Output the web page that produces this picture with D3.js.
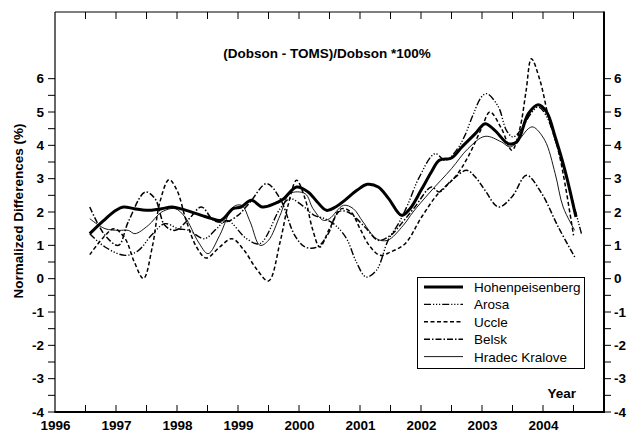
<!DOCTYPE html>
<html><head><meta charset="utf-8">
<script src="https://cdn.jsdelivr.net/npm/d3@7"></script>
<style>
html,body{margin:0;padding:0;background:#fff;}
text{font-family:Arial,"Liberation Sans",Helvetica,sans-serif;}
</style></head>
<body>
<svg id="chart" width="630" height="435"></svg>
<script>
// ---- data (year, normalized difference %) ----
const hohenpeisenberg = [[1996.57,1.35],[1996.8,1.75],[1997.0,2.05],[1997.12,2.15],[1997.3,2.1],[1997.5,2.05],[1997.75,2.1],[1997.92,2.15],[1998.15,2.05],[1998.4,1.9],[1998.57,1.8],[1998.72,1.75],[1998.92,2.1],[1999.05,2.15],[1999.22,2.35],[1999.4,2.15],[1999.6,2.25],[1999.75,2.4],[1999.96,2.75],[2000.15,2.6],[2000.3,2.3],[2000.45,2.05],[2000.6,2.15],[2000.75,2.35],[2000.95,2.65],[2001.12,2.83],[2001.3,2.75],[2001.47,2.4],[2001.68,1.9],[2001.82,2.1],[2002.0,2.65],[2002.17,3.2],[2002.3,3.55],[2002.5,3.62],[2002.67,3.95],[2002.89,4.35],[2003.05,4.65],[2003.21,4.45],[2003.43,4.05],[2003.57,4.1],[2003.76,4.95],[2003.92,5.22],[2004.06,5.0],[2004.2,4.25],[2004.36,3.25],[2004.54,1.85]];
const arosa = [[1996.57,1.35],[1996.82,0.95],[1997.15,0.7],[1997.37,0.85],[1997.58,1.3],[1997.8,1.65],[1998.02,1.5],[1998.19,1.45],[1998.45,1.2],[1998.65,1.5],[1998.82,1.75],[1999.14,1.2],[1999.36,1.05],[1999.69,2.1],[1999.85,2.4],[2000.05,2.2],[2000.25,1.9],[2000.42,1.8],[2000.6,1.6],[2000.78,1.2],[2000.94,0.5],[2001.1,0.05],[2001.27,0.25],[2001.46,1.15],[2001.63,1.65],[2001.79,2.25],[2001.96,3.0],[2002.23,3.75],[2002.4,3.55],[2002.6,3.9],[2002.72,4.3],[2002.85,4.9],[2002.99,5.45],[2003.08,5.55],[2003.27,5.15],[2003.4,4.45],[2003.51,4.25],[2003.65,4.5],[2003.8,4.95],[2003.92,5.15],[2004.05,4.9],[2004.3,3.55],[2004.63,1.35]];
const uccle = [[1996.57,0.72],[1996.8,1.25],[1996.97,1.5],[1997.15,1.2],[1997.3,0.5],[1997.45,0.0],[1997.6,1.0],[1997.72,2.3],[1997.87,2.97],[1998.0,2.65],[1998.15,1.75],[1998.32,0.95],[1998.48,0.62],[1998.7,0.95],[1998.9,1.2],[1999.1,0.85],[1999.3,0.3],[1999.5,-0.07],[1999.69,1.1],[1999.82,2.2],[1999.96,2.95],[2000.1,2.4],[2000.22,1.5],[2000.34,0.95],[2000.5,1.5],[2000.7,2.1],[2000.85,2.0],[2001.0,1.5],[2001.15,1.0],[2001.33,0.7],[2001.5,0.8],[2001.74,1.05],[2002.01,1.85],[2002.28,2.55],[2002.56,3.05],[2002.77,3.65],[2002.99,4.5],[2003.13,5.0],[2003.32,4.5],[2003.49,3.85],[2003.62,4.5],[2003.72,5.6],[2003.81,6.6],[2003.95,5.95],[2004.09,4.85],[2004.25,3.85],[2004.36,2.85],[2004.5,1.3]];
const belsk = [[1996.57,2.15],[1996.82,1.3],[1997.04,1.0],[1997.2,1.7],[1997.48,2.6],[1997.64,2.4],[1997.8,1.6],[1997.97,1.45],[1998.2,1.8],[1998.4,2.15],[1998.6,1.75],[1998.8,1.7],[1999.0,1.9],[1999.2,2.3],[1999.47,2.85],[1999.69,2.4],[1999.93,1.3],[2000.1,0.95],[2000.3,0.95],[2000.48,1.35],[2000.64,2.0],[2000.8,2.0],[2001.08,1.55],[2001.3,1.15],[2001.5,1.3],[2001.7,1.7],[2001.9,2.15],[2002.17,2.75],[2002.3,2.6],[2002.5,2.95],[2002.75,3.25],[2002.89,3.05],[2003.05,2.65],[2003.27,2.15],[2003.49,2.45],[2003.73,3.1],[2003.98,2.55],[2004.25,1.55],[2004.52,0.65]];
const hradecKralove = [[1996.57,1.8],[1996.82,1.5],[1997.04,1.45],[1997.2,1.45],[1997.31,1.35],[1997.53,1.6],[1997.75,2.0],[1997.97,2.1],[1998.13,1.85],[1998.35,1.1],[1998.51,0.75],[1998.7,1.3],[1998.92,2.15],[1999.06,2.2],[1999.2,1.7],[1999.36,1.0],[1999.5,1.15],[1999.69,1.9],[1999.85,2.55],[2000.1,2.55],[2000.23,2.1],[2000.4,1.75],[2000.5,1.8],[2000.73,2.2],[2000.89,2.1],[2001.05,1.7],[2001.27,1.2],[2001.45,1.15],[2001.71,1.6],[2001.87,2.0],[2002.15,2.6],[2002.5,3.3],[2002.77,3.9],[2003.05,4.27],[2003.32,4.1],[2003.46,3.95],[2003.6,4.15],[2003.76,4.5],[2003.84,4.55],[2004.03,4.15],[2004.2,3.15],[2004.33,2.15],[2004.52,1.45]];

const seriesNames = ["Hohenpeisenberg","Arosa","Uccle","Belsk","Hradec Kralove"];
const yTickValues = [-4,-3,-2,-1,0,1,2,3,4,5,6];
const xTickLabels = [1996,1997,1998,1999,2000,2001,2002,2003,2004];
const titleText = "(Dobson - TOMS)/Dobson *100%";
const yLabelText = "Normalized Differences (%)";
const xLabelText = "Year";

// ---- layout ----
const L = 55, R = 604, T = 12, B = 412;
const svg = d3.select("#chart");
const x = d3.scaleLinear().domain([1996, 2005]).range([L, R]);
const y = d3.scaleLinear().domain([-4, 8]).range([B, T]);

const styles = {
  "Hohenpeisenberg": {w: 3, dash: null},
  "Arosa": {w: 1.4, dash: "7,2,1.2,1.8,1.2,1.8,1.2,2"},
  "Uccle": {w: 1.5, dash: "4,2.5"},
  "Belsk": {w: 1.5, dash: "6,2,1.5,2"},
  "Hradec Kralove": {w: 0.9, dash: null}
};
const dataByName = {
  "Hohenpeisenberg": hohenpeisenberg, "Arosa": arosa, "Uccle": uccle,
  "Belsk": belsk, "Hradec Kralove": hradecKralove
};

const fontSize = 13.5;
const fontFam = "Arial, 'Liberation Sans', sans-serif";
const fmt = d => String(d);
const half = d3.range(1996, 2005.01, 0.5).filter(v => v > 1996 && v < 2005);
const yMinor = d3.range(-4, 6.01, 0.5);

// bottom axis labels
const bottomAxis = d3.axisBottom(x).tickValues(xTickLabels).tickFormat(fmt).tickSize(0).tickPadding(8);
const gB = svg.append("g").attr("transform", `translate(0,${B})`).call(bottomAxis);
gB.select(".domain").remove();
gB.selectAll("text").attr("font-size", fontSize).attr("font-weight", "bold").attr("fill", "#000").attr("font-family", fontFam);

// inward ticks bottom & top at half years
svg.append("g").selectAll("line").data(half).join("line")
  .attr("x1", d => x(d)).attr("x2", d => x(d)).attr("y1", B).attr("y2", B - 7)
  .attr("stroke", "#000").attr("stroke-width", 1);
svg.append("g").selectAll("line").data(half).join("line")
  .attr("x1", d => x(d)).attr("x2", d => x(d)).attr("y1", T).attr("y2", T + 7)
  .attr("stroke", "#000").attr("stroke-width", 1);

// left axis
const leftAxis = d3.axisLeft(y).tickValues(yTickValues).tickFormat(fmt).tickSize(0).tickPadding(11);
const gL = svg.append("g").attr("transform", `translate(${L},0)`).call(leftAxis);
gL.select(".domain").remove();
gL.selectAll("text").attr("font-size", fontSize).attr("font-weight", "bold").attr("fill", "#000").attr("font-family", fontFam);
svg.append("g").selectAll("line").data(yMinor).join("line")
  .attr("x1", L - 7).attr("x2", L).attr("y1", d => y(d)).attr("y2", d => y(d))
  .attr("stroke", "#000").attr("stroke-width", 1);

// right axis
const rightAxis = d3.axisRight(y).tickValues(yTickValues).tickFormat(fmt).tickSize(0).tickPadding(10);
const gR = svg.append("g").attr("transform", `translate(${R},0)`).call(rightAxis);
gR.select(".domain").remove();
gR.selectAll("text").attr("font-size", fontSize).attr("font-weight", "bold").attr("fill", "#000").attr("font-family", fontFam);
svg.append("g").selectAll("line").data(yMinor).join("line")
  .attr("x1", R).attr("x2", R + 7).attr("y1", d => y(d)).attr("y2", d => y(d))
  .attr("stroke", "#000").attr("stroke-width", 1);

// frame
svg.append("line").attr("x1", L).attr("x2", R).attr("y1", T).attr("y2", T).attr("stroke", "#000").attr("stroke-width", 1.2);
svg.append("line").attr("x1", L).attr("x2", L).attr("y1", T).attr("y2", B).attr("stroke", "#000").attr("stroke-width", 1.2);
svg.append("line").attr("x1", R).attr("x2", R).attr("y1", T - 0.6).attr("y2", B + 1).attr("stroke", "#000").attr("stroke-width", 2);
svg.append("line").attr("x1", L - 0.6).attr("x2", R + 1).attr("y1", B).attr("y2", B).attr("stroke", "#000").attr("stroke-width", 2);

// series
const line = d3.line().x(d => x(d[0])).y(d => y(d[1])).curve(d3.curveCatmullRom.alpha(0.5));
const drawOrder = ["Belsk","Arosa","Uccle","Hradec Kralove","Hohenpeisenberg"];
drawOrder.forEach(name => {
  const s = styles[name];
  svg.append("path").datum(dataByName[name]).attr("d", line)
    .attr("fill", "none").attr("stroke", "#000").attr("stroke-width", s.w)
    .attr("stroke-dasharray", s.dash).attr("stroke-linejoin", "round");
});

// title and labels
svg.append("text").attr("x", 327).attr("y", 58).attr("text-anchor", "middle")
  .attr("font-size", fontSize).attr("font-weight", "bold").text(titleText);
svg.append("text").attr("transform", "translate(23,211) rotate(-90)").attr("text-anchor", "middle")
  .attr("font-size", fontSize).attr("font-weight", "bold").text(yLabelText);
svg.append("text").attr("x", 576).attr("y", 398).attr("text-anchor", "end")
  .attr("font-size", fontSize).attr("font-weight", "bold").text(xLabelText);

// legend
const lg = svg.append("g");
lg.append("rect").attr("x", 417.5).attr("y", 277.5).attr("width", 167).attr("height", 91)
  .attr("fill", "#fff").attr("stroke", "#000").attr("stroke-width", 1);
seriesNames.forEach((name, i) => {
  const cy = 287 + i * 17.4;
  const s = styles[name];
  lg.append("line").attr("x1", 424).attr("x2", 463).attr("y1", cy).attr("y2", cy)
    .attr("stroke", "#000").attr("stroke-width", s.w).attr("stroke-dasharray", s.dash);
  lg.append("text").attr("x", 474).attr("y", cy + 5).attr("font-size", fontSize).text(name);
});
</script>
</body></html>
